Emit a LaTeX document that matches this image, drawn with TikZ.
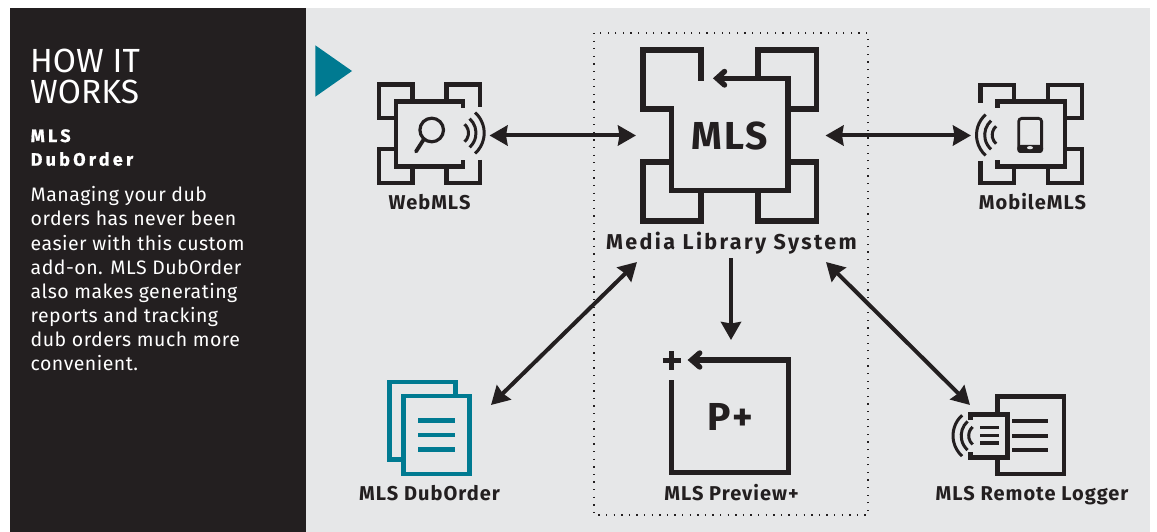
\documentclass[tikz,border=0pt]{standalone}
\usepackage{fontspec}
\setmainfont{Fira Sans}
\usetikzlibrary{arrows.meta}
\definecolor{ink}{HTML}{231F20}
\definecolor{panel}{HTML}{E6E7E8}
\definecolor{teal}{HTML}{007A91}
\newfontfamily\lettered[LetterSpace=5]{Fira Sans}
\newfontfamily\letteredwide[LetterSpace=11]{Fira Sans}
\newfontfamily\letteredbig[LetterSpace=5]{Fira Sans}
\newfontfamily\bodyfont[LetterSpace=2.5]{Fira Sans}
\newfontfamily\widebold[LetterSpace=18]{Fira Sans}
\newcommand{\radiowaves}[2]{% centre, sign
  \foreach \rr in {27.5,19.3,11.8}
    \draw[wave,shift={(#1)}] ({#2*cos(48)*\rr},{-sin(48)*\rr}) arc[start angle={90-#2*42},end angle={90-#2*138},radius=\rr pt];
}
\tikzset{
  icon/.style={draw=ink,line width=4.7pt},
  bigicon/.style={draw=ink,line width=5.4pt},
  wave/.style={draw=ink,line width=3pt},
  link/.style={draw=ink,line width=4pt,{Stealth[length=18pt,width=20pt,inset=1.5pt]}-{Stealth[length=18pt,width=20pt,inset=1.5pt]}},
  oneway/.style={draw=ink,line width=4pt,-{Stealth[length=18pt,width=20pt,inset=1.5pt]}},
  label/.style={text=ink,anchor=base,inner sep=0pt,font=\fontsize{20}{24}\selectfont\bfseries\lettered},
  tealicon/.style={draw=teal,line width=4.6pt},
}
\begin{document}
\begin{tikzpicture}[x=1pt,y=-1pt]
\useasboundingbox (0,0) rectangle (1157,532);
\fill[white] (0,0) rectangle (1157,532);
\fill[ink] (10,8) rectangle (306,532);
\fill[panel] (306,8) rectangle (1150,532);
\fill[teal] (315.3,45.3) -- (315.3,96.7) -- (352,71) -- cycle;

% side panel text
\node[anchor=base west,inner sep=0pt,text=white,align=left,font=\fontsize{33.5}{31.7}\selectfont] (title) at (30,104) {HOW IT\\WORKS};
\node[anchor=base west,inner sep=0pt,text=white,align=left,font=\fontsize{18}{23.7}\selectfont\widebold\bfseries\addfontfeature{FakeBold=0.8}] (sub) at (30.5,165.7) {MLS\\DubOrder};
\node[anchor=base west,inner sep=0pt,text=white,align=left,font=\fontsize{19.5}{24.1}\selectfont\bodyfont] (body) at (30.5,370.5) {Managing your dub\\orders has never been\\easier with this custom\\add-on. MLS DubOrder\\also makes generating\\reports and tracking\\dub orders much more\\convenient.};

% dotted frame
\draw[ink,line width=1.3pt,dash pattern=on 1.3pt off 6.3pt] (594,33) rectangle (868,515);

% WebMLS icon
\draw[icon] (463,108) -- (463,101.5) -- (396,101.5) -- (396,166.5) -- (463,166.5) -- (463,160);
\draw[icon] (412.5,101.5) -- (412.5,84.5) -- (379,84.5) -- (379,118) -- (396,118);
\draw[icon] (446.7,101.5) -- (446.7,84.5) -- (480,84.5) -- (480,107);
\draw[icon] (480,160) -- (480,183) -- (446.7,183) -- (446.7,166.5);
\draw[icon] (396,149) -- (379,149) -- (379,183) -- (412.5,183) -- (412.5,166.5);
\draw[ink,line width=3.2pt] (431.7,130) circle[radius=11.8pt];
\draw[ink,line width=3.8pt,line cap=round] (424,139) -- (416,151.5);
\radiowaves{456.7,133}{1}
\node[label] (web) at (429.5,209) {WebMLS};

% MLS icon
\draw[bigicon] (716,78.3) -- (788,78.3) -- (788,190.7) -- (671.7,190.7) -- (671.7,106.5);
\draw[bigicon,line cap=round,line join=miter] (724.5,71.5) -- (717,78.3) -- (724.5,85);
\draw[bigicon] (701,80.7) -- (701,50) -- (643,50) -- (643,109) -- (674.3,109);
\draw[bigicon] (758,78.3) -- (758,50) -- (816.7,50) -- (816.7,109) -- (788,109);
\draw[bigicon] (788,162) -- (816.7,162) -- (816.7,221) -- (758,221) -- (758,190.7);
\draw[bigicon] (671.7,162) -- (643,162) -- (643,221) -- (701,221) -- (701,190.7);
\node[text=ink,inner sep=0pt,font=\fontsize{39}{39}\selectfont\bfseries\letteredbig] (mls) at (730,136) {MLS};
\node[label,font=\fontsize{21.5}{24}\selectfont\bfseries\letteredwide] (system) at (731.5,249) {Media Library System};

% MobileMLS icon
\draw[icon] (997.3,108) -- (997.3,101.7) -- (1065,101.7) -- (1065,166.7) -- (997.3,166.7) -- (997.3,160);
\draw[icon] (980.7,103) -- (980.7,85) -- (1014,85) -- (1014,101.7);
\draw[icon] (1048,101.7) -- (1048,85) -- (1082,85) -- (1082,118) -- (1065,118);
\draw[icon] (1065,149) -- (1082,149) -- (1082,183) -- (1048,183) -- (1048,166.7);
\draw[icon] (980.7,160.7) -- (980.7,183) -- (1014,183) -- (1014,166.7);
\draw[ink,line width=2.8pt,rounded corners=3pt] (1018.7,118.4) rectangle (1041.6,151.6);
\fill[ink,rounded corners=3pt] (1017.3,145) rectangle (1043,153);
\fill[panel] (1030,147.7) ellipse[x radius=3pt,y radius=1.6pt];
\radiowaves{1004,135}{-1}
\node[label] (mobile) at (1032.5,209) {MobileMLS};

% MLS DubOrder icon
\draw[tealicon] (455.3,396) -- (455.3,382) -- (389.3,382) -- (389.3,459.7) -- (403.3,459.7);
\draw[tealicon] (403.3,396) rectangle (469.7,474);
\foreach \yy in {420.3,435,449.3} \draw[tealicon] (418,\yy) -- (454.7,\yy);
\node[label] (dub) at (429.5,500) {MLS DubOrder};

% Preview icon
\draw[bigicon] (694,360) -- (788.3,360) -- (788.3,472.7) -- (671.7,472.7) -- (671.7,380);
\draw[bigicon,line cap=round] (699.7,353) -- (691.7,360) -- (699.7,367);
\draw[ink,line width=5pt] (662.5,360) -- (681,360) (671.7,351) -- (671.7,369.5);
\node[text=ink,inner sep=0pt,font=\fontsize{39}{39}\selectfont\bfseries\letteredbig] (pplus) at (730,417) {P+};
\node[label] (preview) at (731.5,500) {MLS Preview+};

% Remote logger icon
\draw[icon] (997.3,414.3) -- (997.3,396.7) -- (1064,396.7) -- (1064,474) -- (997.3,474) -- (997.3,457.3);
\draw[icon] (970.7,420) -- (970.7,414.3) -- (1007.7,414.3) -- (1007.7,457.3) -- (970.7,457.3) -- (970.7,451.7);
\foreach \yy in {421,435.7,450} \draw[ink,line width=4.4pt] (1012.3,\yy) -- (1048.3,\yy);
\foreach \yy in {427.7,435.7,443} \draw[ink,line width=3.4pt] (980,\yy) -- (999,\yy);
\radiowaves{980.5,435.7}{-1}
\node[label] (logger) at (1032,500) {MLS Remote Logger};

% connector ends
\coordinate (webR) at (489.5,135.5);
\coordinate (mlsL) at (636,135.5);
\coordinate (mlsR) at (825.5,135.5);
\coordinate (mobL) at (971,135.5);
\coordinate (sysSW) at (637,262);
\coordinate (dubNE) at (491,405);
\coordinate (sysS) at (731,258);
\coordinate (preN) at (731,340);
\coordinate (sysSE) at (826,262);
\coordinate (logNW) at (970,405);
\draw[link] (webR) -- (mlsL);
\draw[link] (mlsR) -- (mobL);
\draw[link] (sysSW) -- (dubNE);
\draw[oneway] (sysS) -- (preN);
\draw[link] (sysSE) -- (logNW);
\end{tikzpicture}
\end{document}
